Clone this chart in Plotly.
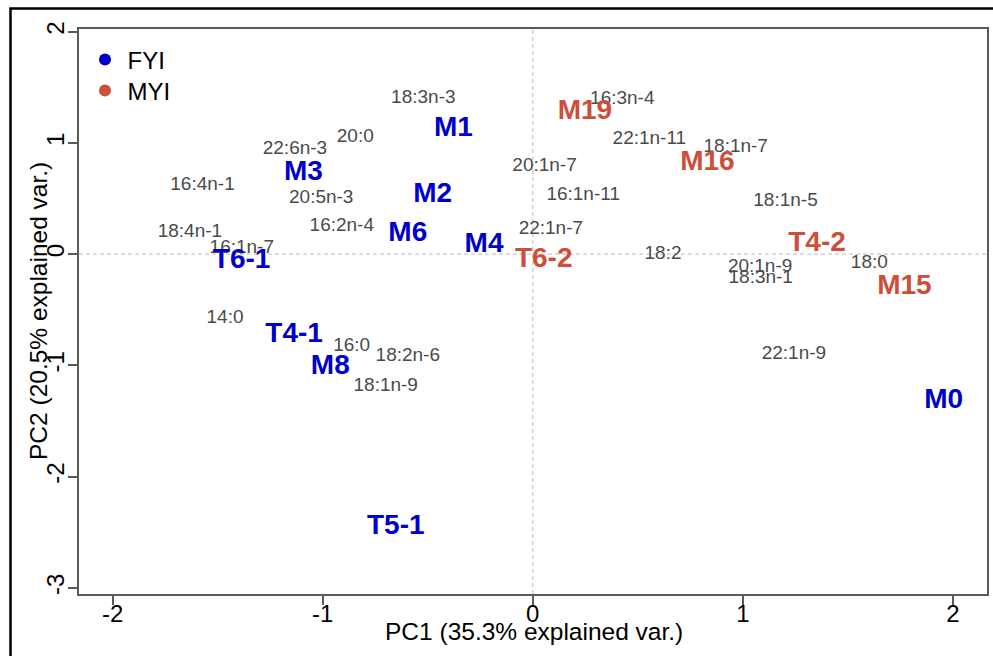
import plotly.graph_objects as go

# Sample scores (PC1, PC2)
fyi_labels = ["M1", "M3", "M2", "M6", "M4", "T6-1", "T4-1", "M8", "T5-1", "M0"]
fyi_pc1 = [-0.378, -1.092, -0.477, -0.595, -0.232, -1.386, -1.136, -0.964, -0.652, 1.956]
fyi_pc2 = [1.127, 0.731, 0.529, 0.178, 0.081, -0.058, -0.726, -1.018, -2.452, -1.321]

myi_labels = ["M19", "M16", "T6-2", "T4-2", "M15"]
myi_pc1 = [0.248, 0.831, 0.052, 1.353, 1.769]
myi_pc2 = [1.275, 0.821, -0.054, 0.095, -0.294]

# Variable (fatty acid) loadings positions
var_labels = ["18:3n-3", "20:0", "22:6n-3", "16:4n-1", "20:5n-3", "16:2n-4", "18:4n-1",
              "16:1n-7", "14:0", "16:0", "18:2n-6", "18:1n-9", "16:3n-4", "22:1n-11",
              "18:1n-7", "20:1n-7", "16:1n-11", "18:1n-5", "22:1n-7", "18:2", "20:1n-9",
              "18:3n-1", "18:0", "22:1n-9"]
var_pc1 = [-0.521, -0.845, -1.132, -1.572, -1.007, -0.909, -1.632,
           -1.385, -1.465, -0.862, -0.595, -0.700, 0.426, 0.555,
           0.966, 0.056, 0.240, 1.203, 0.086, 0.620, 1.082,
           1.085, 1.602, 1.243]
var_pc2 = [1.398, 1.046, 0.941, 0.619, 0.499, 0.253, 0.196,
           0.049, -0.580, -0.831, -0.917, -1.189, 1.394, 1.035,
           0.960, 0.787, 0.531, 0.472, 0.220, 0.001, -0.121,
           -0.219, -0.081, -0.898]

x_ticks = [-2, -1, 0, 1, 2]
y_ticks = [-3, -2, -1, 0, 1, 2]
x_title = "PC1 (35.3% explained var.)"
y_title = "PC2 (20.5% explained var.)"

BLUE = "#0000CD"
RED = "#CD4F39"
GRAY = "#4a4a4a"
FONT = "Liberation Sans, Arial, sans-serif"

# plot area in pixels
W, H = 993, 656
L, R, T, B = 79, 6, 29, 62
PW, PH = W - L - R, H - T - B


def px_x(p):
    return (p - L) / PW


def px_y(p):
    return (H - B - p) / PH


fig = go.Figure()

fig.add_trace(go.Scatter(
    x=var_pc1, y=var_pc2, text=var_labels, mode="text",
    textfont=dict(family=FONT, size=19, color=GRAY),
    showlegend=False, hoverinfo="text"))

fig.add_trace(go.Scatter(
    x=fyi_pc1, y=fyi_pc2, text=fyi_labels, mode="text",
    textfont=dict(family=FONT, size=28, color=BLUE, weight="bold"),
    showlegend=False, hoverinfo="text"))

fig.add_trace(go.Scatter(
    x=myi_pc1, y=myi_pc2, text=myi_labels, mode="text",
    textfont=dict(family=FONT, size=28, color=RED, weight="bold"),
    showlegend=False, hoverinfo="text"))

# legend entries
fig.add_trace(go.Scatter(x=[None], y=[None], mode="markers", name="FYI",
                         marker=dict(color=BLUE, size=12), legend="legend"))
fig.add_trace(go.Scatter(x=[None], y=[None], mode="markers", name="MYI",
                         marker=dict(color=RED, size=12), legend="legend2"))

fig.add_hline(y=0, line=dict(color="#c8c8c8", width=1.2, dash="4px,3px"), layer="below")
fig.add_vline(x=0, line=dict(color="#c8c8c8", width=1.2, dash="4px,3px"), layer="below")

# outer frame
fig.add_shape(type="rect", xref="paper", yref="paper",
              x0=px_x(10.5), x1=1.2, y0=-0.3, y1=px_y(8.5),
              line=dict(color="black", width=2.5), layer="above")

# axis titles
fig.add_annotation(text=x_title, xref="paper", yref="paper",
                   x=px_x(533.5), y=px_y(631), xanchor="center", yanchor="middle",
                   showarrow=False, font=dict(family=FONT, size=24.5, color="black"))
fig.add_annotation(text=y_title, xref="paper", yref="paper", textangle=-90,
                   x=px_x(38), y=px_y(311), xanchor="center", yanchor="middle",
                   showarrow=False, font=dict(family=FONT, size=24.5, color="black"))

axis_common = dict(
    showgrid=False, zeroline=False, showline=True, mirror=True, automargin=False,
    linecolor="#5a5a5a", linewidth=1.5,
    ticks="outside", ticklen=9, tickwidth=1.5, tickcolor="#5a5a5a",
    tickfont=dict(family=FONT, size=24, color="black"),
)

legend_common = dict(xanchor="left", yanchor="middle",
                     font=dict(family=FONT, size=24, color="black"),
                     bgcolor="rgba(0,0,0,0)", itemwidth=35)

fig.update_layout(
    width=W, height=H,
    margin=dict(l=L, r=R, t=T, b=B),
    plot_bgcolor="white", paper_bgcolor="white",
    font=dict(family=FONT, color="black"),
    xaxis=dict(range=[-2.16, 2.162], tickvals=x_ticks, ticktext=[str(v) for v in x_ticks],
               ticklabelstandoff=-12, **axis_common),
    yaxis=dict(range=[-3.055, 2.023], tickvals=y_ticks, ticktext=[str(v) for v in y_ticks],
               tickangle=-90, ticklabelstandoff=-5, **axis_common),
    legend=dict(x=px_x(82.5), y=px_y(60), **legend_common),
    legend2=dict(x=px_x(82.5), y=px_y(91), **legend_common),
)

fig.write_html("out.html", config={"displayModeBar": False},
               post_script="document.body.style.margin='0';document.body.style.overflow='hidden';")
